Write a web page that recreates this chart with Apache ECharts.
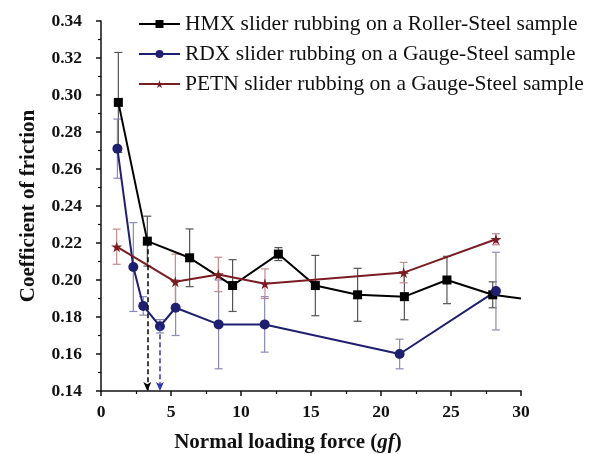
<!DOCTYPE html>
<html>
<head>
<meta charset="utf-8">
<script src="https://cdn.jsdelivr.net/npm/echarts@6/dist/echarts.min.js"></script>
<style>
  html, body { margin: 0; padding: 0; background: #fff; }
  #main { width: 600px; height: 454px; }
</style>
</head>
<body>
<div id="main"></div>
<script>
// 数据
var hmxName = 'HMX slider rubbing on a Roller-Steel sample';
var rdxName = 'RDX slider rubbing on a Gauge-Steel sample';
var petnName = 'PETN slider rubbing on a Gauge-Steel sample';

var hmxX = [1.24, 3.31, 6.33, 9.40, 12.67, 15.31, 18.33, 21.67, 24.71, 27.98, 30];
var hmxY = [0.296, 0.221, 0.212, 0.197, 0.214, 0.197, 0.192, 0.191, 0.200, 0.192, 0.190];
var hmxErr = [0.027, 0.0135, 0.0156, 0.014, 0.0035, 0.0163, 0.0143, 0.0125, 0.0128, 0.007, 0];

var rdxX = [1.17, 2.31, 3.02, 4.21, 5.33, 8.40, 11.69, 21.33, 28.21];
var rdxY = [0.271, 0.207, 0.186, 0.175, 0.185, 0.176, 0.176, 0.160, 0.194];
var rdxErr = [0.016, 0.024, 0.005, 0.0036, 0.015, 0.024, 0.015, 0.008, 0.021];

var petnX = [1.12, 5.31, 8.38, 11.71, 21.62, 28.21];
var petnY = [0.218, 0.199, 0.203, 0.198, 0.204, 0.222];
var petnErr = [0.0095, 0.015, 0.0093, 0.008, 0.0055, 0.003];

var serif = "'Liberation Serif', 'Times New Roman', serif";

function pts(xs, ys) {
	return xs.map(function (x, i) {
		// 末尾没有误差的点不画标记
		if (i === xs.length - 1 && xs === hmxX) {
			return { value: [x, ys[i]], symbol: 'none' };
		}
		return [x, ys[i]];
	});
}

function errorBars(xs, ys, errs, color) {
	return {
		type: 'custom',
		silent: true,
		z: 1,
		data: xs.map(function (x, i) { return [x, ys[i] - errs[i], ys[i] + errs[i], errs[i]]; }),
		encode: { x: 0, y: [1, 2] },
		renderItem: function (params, api) {
			if (!api.value(3)) return null;
			var lo = api.coord([api.value(0), api.value(1)]);
			var hi = api.coord([api.value(0), api.value(2)]);
			var w = 4;
			var st = { stroke: color, lineWidth: 1.2 };
			return {
				type: 'group',
				children: [
					{ type: 'line', shape: { x1: lo[0], y1: lo[1], x2: hi[0], y2: hi[1] }, style: st },
					{ type: 'line', shape: { x1: lo[0] - w, y1: lo[1], x2: lo[0] + w, y2: lo[1] }, style: st },
					{ type: 'line', shape: { x1: hi[0] - w, y1: hi[1], x2: hi[0] + w, y2: hi[1] }, style: st }
				]
			};
		}
	};
}

function arrowLine(x, y, color) {
	return {
		silent: true,
		symbol: ['none', 'arrow'],
		symbolSize: [6, 9],
		label: { show: false },
		lineStyle: { color: color, type: [5, 3], width: 1.5 },
		data: [[{ coord: [x, y] }, { coord: [x, 0.14] }]]
	};
}

var myChart = echarts.init(document.getElementById('main'));

var option = {
	backgroundColor: '#fff',
	animation: false,
	textStyle: { fontFamily: serif },
	grid: { left: 101, top: 21, width: 420, height: 370, outerBoundsMode: 'none', containLabel: false },
	legend: {
		orient: 'vertical',
		left: 133,
		top: 8,
		itemWidth: 41,
		itemHeight: 10,
		itemGap: 8,
		data: [hmxName, rdxName, petnName],
		textStyle: { fontFamily: serif, fontSize: 21.5, color: '#111' }
	},
	xAxis: {
		type: 'value',
		min: 0,
		max: 30,
		interval: 5,
		name: '{b|Normal loading force (}{i|gf}{b|)}',
		nameLocation: 'middle',
		nameGap: 41,
		nameTextStyle: {
			padding: [0, 46, 0, 0],
			rich: {
				b: { fontFamily: serif, fontWeight: 'bold', fontSize: 21, color: '#111' },
				i: { fontFamily: serif, fontWeight: 'bold', fontStyle: 'italic', fontSize: 21, color: '#111' }
			}
		},
		splitLine: { show: false },
		axisLine: { onZero: false, lineStyle: { color: '#111', width: 1.5 } },
		axisTick: { inside: false, length: 5, lineStyle: { color: '#111', width: 1.5 } },
		minorTick: { show: true, splitNumber: 2, length: 3, lineStyle: { color: '#111', width: 1.2 } },
		axisLabel: { fontFamily: serif, fontWeight: 'bold', fontSize: 17.5, color: '#111', margin: 12 }
	},
	yAxis: {
		type: 'value',
		min: 0.14,
		max: 0.34,
		interval: 0.02,
		name: 'Coefficient of friction',
		nameLocation: 'middle',
		nameGap: 62,
		nameTextStyle: { fontFamily: serif, fontWeight: 'bold', fontSize: 21, color: '#111' },
		splitLine: { show: false },
		axisLine: { onZero: false, lineStyle: { color: '#111', width: 1.5 } },
		axisTick: { inside: false, length: 5, lineStyle: { color: '#111', width: 1.5 } },
		minorTick: { show: true, splitNumber: 2, length: 3, lineStyle: { color: '#111', width: 1.2 } },
		axisLabel: {
			fontFamily: serif, fontWeight: 'bold', fontSize: 17.5, color: '#111', margin: 19,
			formatter: function (v) { return v.toFixed(2); }
		}
	},
	series: [
		errorBars(hmxX, hmxY, hmxErr, '#555'),
		errorBars(rdxX, rdxY, rdxErr, '#8a8ab8'),
		errorBars(petnX, petnY, petnErr, '#c58a8a'),
		{
			name: hmxName,
			type: 'line',
			z: 3,
			symbol: 'rect',
			symbolSize: 9,
			color: '#000',
			lineStyle: { color: '#000', width: 2 },
			itemStyle: { color: '#000' },
			data: pts(hmxX, hmxY),
			markLine: arrowLine(hmxX[1], hmxY[1], '#000')
		},
		{
			name: rdxName,
			type: 'line',
			z: 3,
			symbol: 'circle',
			symbolSize: 10,
			color: '#1f1f70',
			lineStyle: { color: '#1f1f70', width: 2 },
			itemStyle: { color: '#1f1f70' },
			data: pts(rdxX, rdxY),
			markLine: arrowLine(rdxX[3], rdxY[3], '#3535b0')
		},
		{
			name: petnName,
			type: 'line',
			z: 3,
			symbol: 'path://M50,0 L61,35 L98,35 L68,57 L79,91 L50,70 L21,91 L32,57 L2,35 L39,35 Z',
			symbolSize: 11,
			color: '#7a1c22',
			lineStyle: { color: '#7a1c22', width: 2 },
			itemStyle: { color: '#7a1c22' },
			data: pts(petnX, petnY)
		}
	]
};

myChart.setOption(option);
</script>
</body>
</html>
